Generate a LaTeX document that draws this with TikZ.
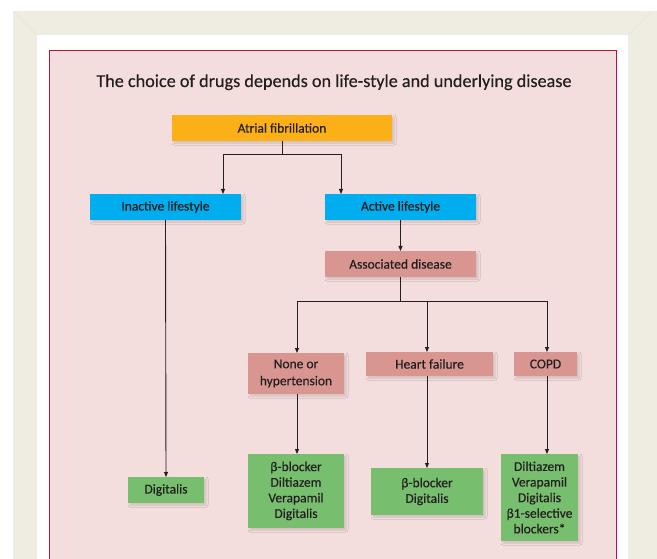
\documentclass[tikz,border=0pt]{standalone}
\usepackage{fontspec}
\setmainfont{Carlito}[FakeBold=0.35]
\usetikzlibrary{shadows.blur,arrows.meta}

\definecolor{framebg}{HTML}{EFECE2}
\definecolor{framediag}{HTML}{E7E3D7}
\definecolor{panelbg}{HTML}{F3DEDD}
\definecolor{panelrule}{HTML}{B0173F}
\definecolor{inktext}{HTML}{231F20}
\definecolor{orangebox}{HTML}{FCB017}
\definecolor{cyanbox}{HTML}{00AEEF}
\definecolor{rosebox}{HTML}{D99691}
\definecolor{greenbox}{HTML}{77BE6E}

\tikzset{
  flowbox/.style={draw=none, inner sep=0pt, outer sep=0pt, anchor=north west,
    text=inktext, align=center, font=\fontsize{13.5}{15.6}\selectfont,
    blur shadow={shadow xshift=2pt, shadow yshift=-2pt, shadow blur steps=6,
      shadow blur radius=2pt, shadow opacity=15}},
  orangefill/.style={flowbox, fill=orangebox},
  cyanfill/.style={flowbox, fill=cyanbox},
  rosefill/.style={flowbox, fill=rosebox},
  greenfill/.style={flowbox, fill=greenbox},
  link/.style={draw=inktext, line width=0.9pt},
  arr/.style={link, -{Triangle[length=5pt,width=4pt]}}
}

\begin{document}
\begin{tikzpicture}[x=1pt,y=-1pt]
\useasboundingbox (0,0) rectangle (657,559);

% frame, white mount and pink panel
\fill[white] (0,0) rectangle (657,559);
\fill[framebg] (13,11) rectangle (657,559);
\draw[framediag, line width=0.6pt] (13,11) -- (37,35) (628,35) -- (652,11);
\fill[white] (37,35) rectangle (628,559);
\fill[panelbg] (49,51) rectangle (616,559);
\draw[panelrule, line width=1pt] (49,559) -- (49,51) -- (616,51) -- (616,559);

% title
\node[anchor=base, text=inktext, font=\fontsize{18.2}{20}\selectfont] (title) at (334,87)
  {The choice of drugs depends on life-style and underlying disease};

% boxes
\node[orangefill, minimum width=220pt, minimum height=26pt] (af) at (172,115) {Atrial fibrillation};
\node[cyanfill, minimum width=151pt, minimum height=26pt] (inact) at (90,194) {Inactive lifestyle};
\node[cyanfill, minimum width=151pt, minimum height=26pt] (act) at (325,194) {Active lifestyle};
\node[rosefill, minimum width=151pt, minimum height=26pt] (assoc) at (325,251) {Associated disease};
\node[rosefill, minimum width=96pt, minimum height=41pt, font=\fontsize{13.5}{17}\selectfont] (none) at (248,353) {None or\\hypertension};
\node[rosefill, minimum width=127pt, minimum height=24pt] (heart) at (366,352) {Heart failure};
\node[rosefill, minimum width=63pt, minimum height=24pt] (copd) at (514,352) {COPD};
\node[greenfill, minimum width=76pt, minimum height=26pt] (dig) at (128,477) {Digitalis};
\node[greenfill, minimum width=96pt, minimum height=74pt] (g1) at (248,454) {β-blocker\\Diltiazem\\Verapamil\\Digitalis};
\node[greenfill, minimum width=112pt, minimum height=47pt] (g2) at (371,468) {β-blocker\\Digitalis};
\node[greenfill, minimum width=77pt, minimum height=87pt] (g3) at (501,454) {Diltiazem\\Verapamil\\Digitalis\\β1-selective\\blockers*};

% junction points of the branching connectors
\coordinate (b1) at (223,154);
\coordinate (b2) at (341,154);
\coordinate (c1) at (297,301);
\coordinate (c2) at (427,301);
\coordinate (c3) at (547,301);

% connectors
\draw[link] (af.south) -- (af.south |- b1);
\draw[arr] (b2) -- (b1) -- (b1 |- inact.north);
\draw[arr] (b2) -- (b2 |- act.north);
\draw[arr] (inact.south) -- (dig.north);
\draw[arr] (act.south) -- (assoc.north);
\draw[link] (assoc.south) -- (assoc.south |- c1);
\draw[link] (c1) -- (c3);
\draw[arr] (c1) -- (c1 |- none.north);
\draw[arr] (c2) -- (c2 |- heart.north);
\draw[arr] (c3) -- (c3 |- copd.north);
\draw[arr] (c1 |- none.south) -- (c1 |- g1.north);
\draw[arr] (c2 |- heart.south) -- (c2 |- g2.north);
\draw[arr] (c3 |- copd.south) -- (c3 |- g3.north);
\end{tikzpicture}
\end{document}
